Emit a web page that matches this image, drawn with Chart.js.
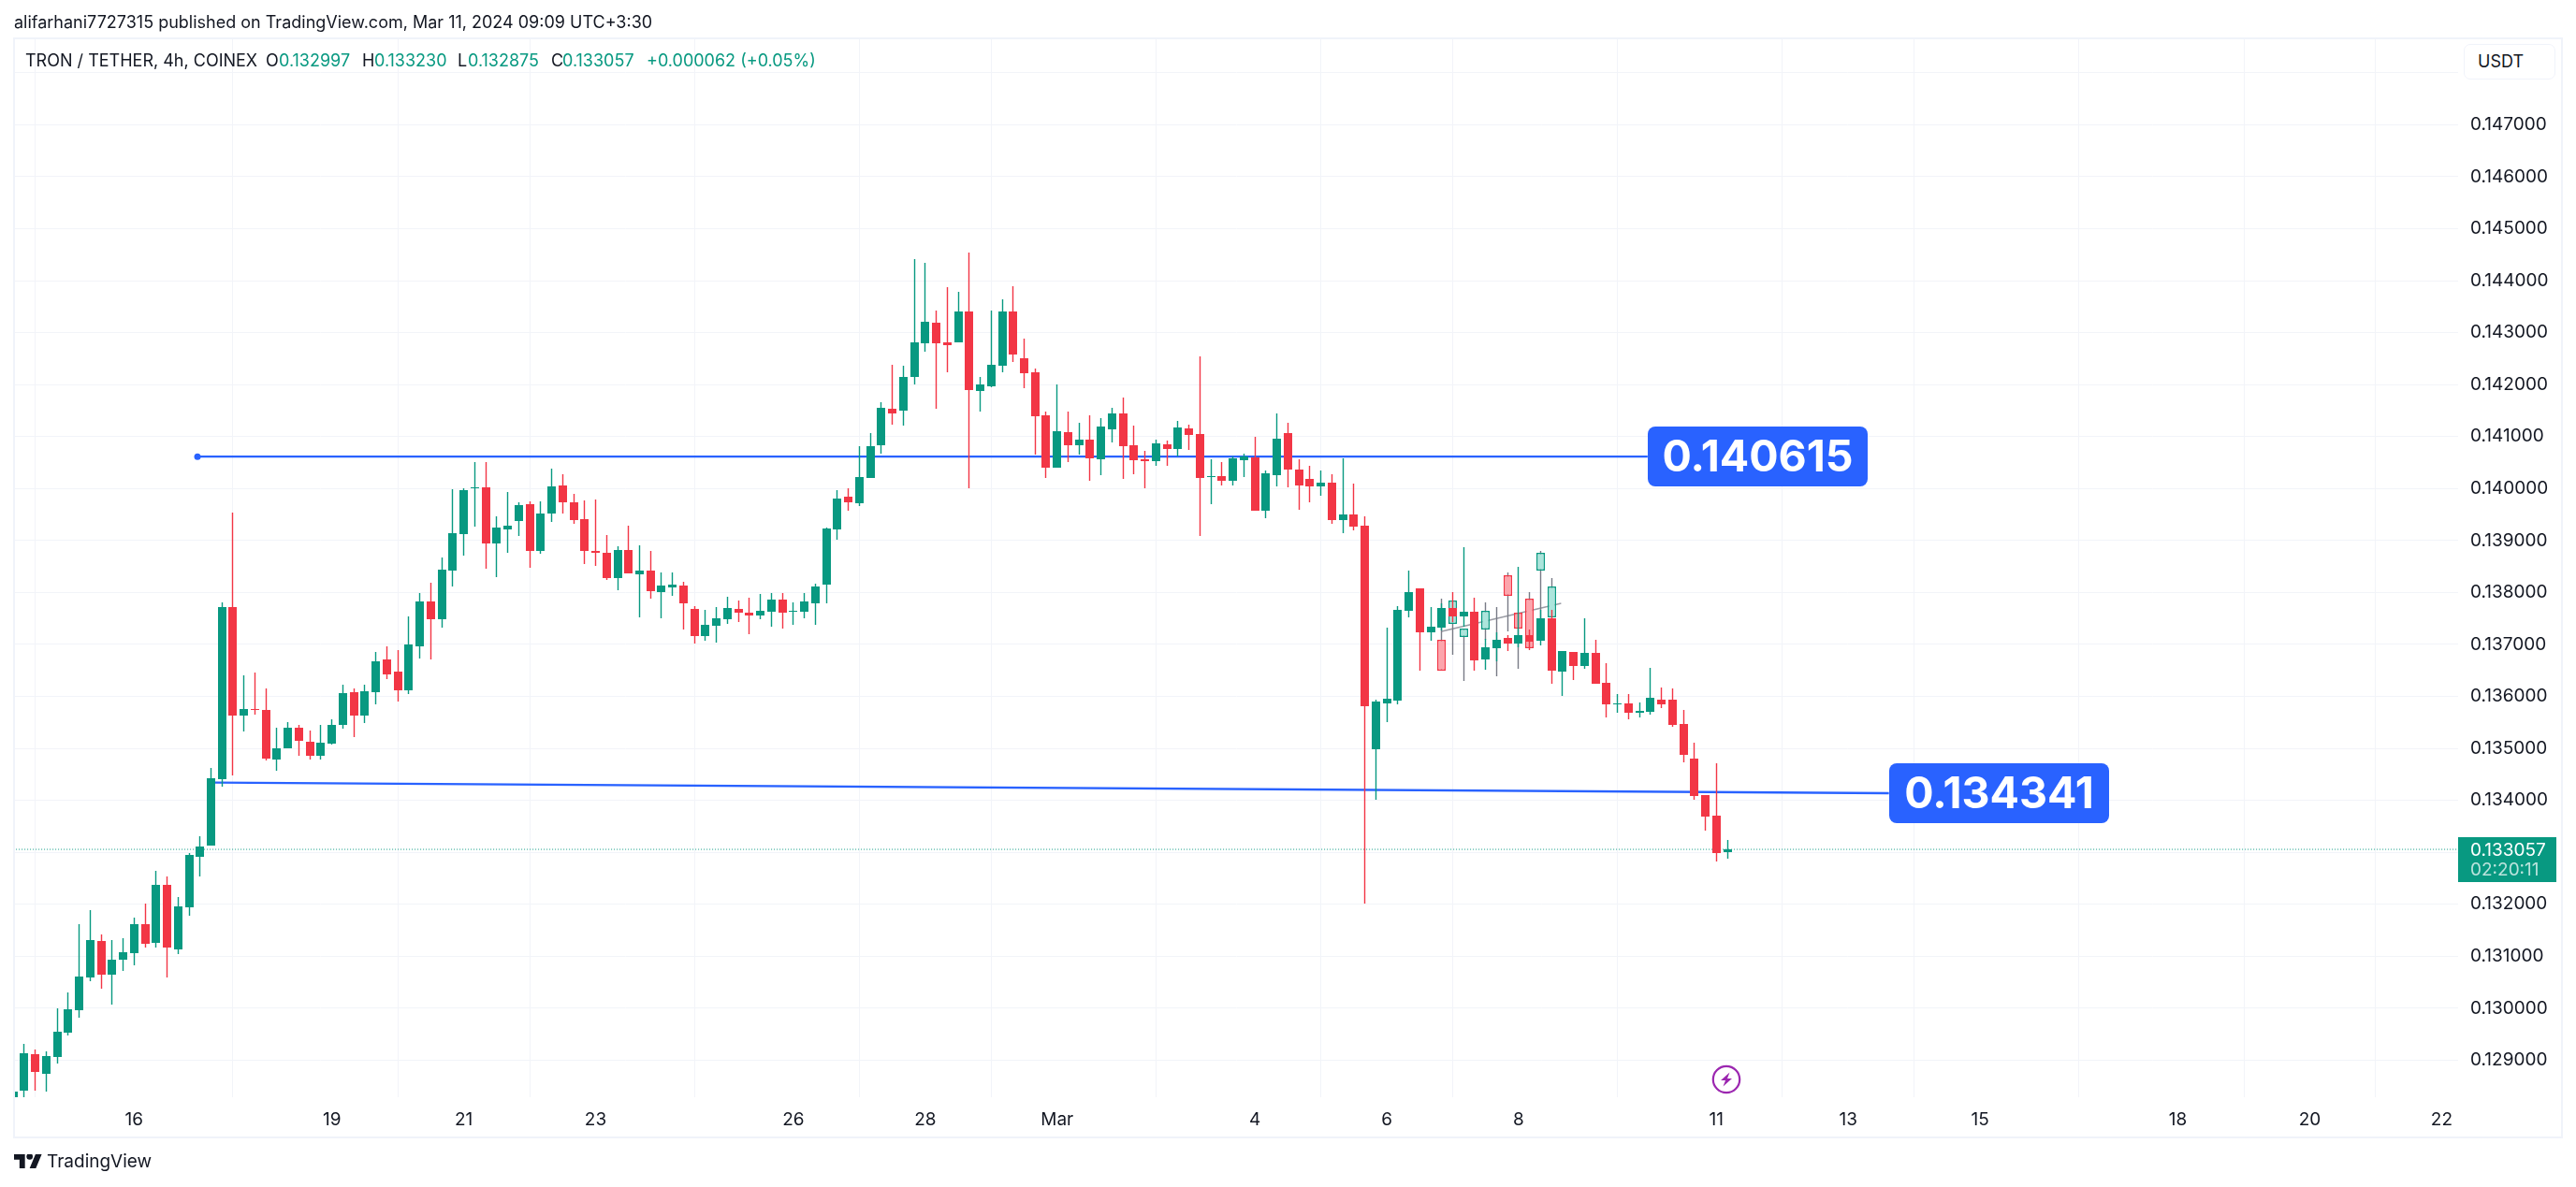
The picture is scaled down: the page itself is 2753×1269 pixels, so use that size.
<!DOCTYPE html>
<html>
<head>
<meta charset="utf-8">
<title>TRON / TETHER, 4h, COINEX</title>
<script src="https://cdn.jsdelivr.net/npm/chart.js@4"></script>
<style>
html,body{margin:0;padding:0;background:#fff;width:2753px;height:1269px;overflow:hidden}
body{font-family:Inter,sans-serif;color:#131722;position:relative}
canvas{position:absolute;left:0;top:0}
.t{position:absolute;white-space:nowrap;line-height:1;font-size:18px}
.g{color:#089981}
#frame{position:absolute;left:14px;top:40px;width:2725px;height:1177px;box-sizing:border-box;border:2px solid #f0f3fa;pointer-events:none}
#usdt{position:absolute;left:2633px;top:47px;width:98px;height:38px;box-sizing:border-box;border:1.5px solid #f0f3fa;border-radius:7px;background:#fff;font-size:18px;line-height:36px;padding-left:14px}
</style>
</head>
<body>
<canvas id="c" width="2753" height="1269"></canvas>
<div id="frame"></div>
<div class="t" style="left:15px;top:15px">alifarhani7727315 published on TradingView.com, Mar 11, 2024 09:09 UTC+3:30</div>
<div class="t" style="left:27px;top:56px">TRON / TETHER, 4h, COINEX</div>
<div class="t" style="left:284px;top:56px">O</div><div class="t g" style="left:298px;top:56px">0.132997</div>
<div class="t" style="left:387px;top:56px">H</div><div class="t g" style="left:400px;top:56px">0.133230</div>
<div class="t" style="left:489px;top:56px">L</div><div class="t g" style="left:500px;top:56px">0.132875</div>
<div class="t" style="left:589px;top:56px">C</div><div class="t g" style="left:601px;top:56px">0.133057</div>
<div class="t g" style="left:691px;top:56px">+0.000062 (+0.05%)</div>
<div id="usdt">USDT</div>
<svg style="position:absolute;left:1829px;top:1138px" width="32" height="32" viewBox="0 0 32 32">
  <circle cx="16" cy="16" r="14.2" fill="#fff" stroke="#9c27b0" stroke-width="2.2"/>
  <path d="M19.5 8.5 L10 17 H15 L12.5 23.5 L22 15 H17 Z" fill="#9c27b0"/>
</svg>
<svg style="position:absolute;left:15px;top:1234px" width="30" height="15" viewBox="0 4 36 18">
  <path d="M14 22H7V11H0V4h14v18zM28 22h-8l7.5-18h8L28 22z" fill="#131722"/><circle cx="20" cy="7" r="4" fill="#131722"/>
</svg>
<div class="t" style="left:50px;top:1232px;font-size:19px;color:#131722">TradingView</div>
<script>
// Bar position on the time axis is the array index.
const opens=[128150,128422,129121,128743,129056,129538,129956,130599,131298,130639,130928,131065,131620,131250,132375,131137,131933,132921,133122,134416,137718,135637,135758,135741,134793,134994,135396,135131,134850,135091,135444,136079,135637,136087,136714,136481,136111,136971,137831,137477,138425,139126,140006,140024,138946,139216,139377,139701,138802,139521,140060,139737,139413,138802,138766,138281,138820,138353,138425,138012,138102,138138,137689,137168,137365,137491,137689,137617,137563,137635,137868,137635,137635,137796,138156,139216,139844,139719,140204,140829,141533,141497,142147,142797,143194,142815,142815,143410,141876,141966,142363,143410,142508,142237,141407,140396,141082,140829,140937,140558,141136,141443,140829,140558,140522,140847,140757,141154,141046,140215,140233,140143,140540,140594,139565,140251,141064,140360,140179,140041,140112,139400,139500,139286,134991,135867,135917,137655,138082,137242,137317,137695,137539,137623,136713,136928,137120,137012,137174,137066,137497,136473,136850,136581,136832,136257,135846,135867,135682,135703,135945,135945,135468,134799,134101,133702,132997];
const highs=[128397,129313,129209,129177,129996,130302,131620,131885,131419,131314,131346,131748,132013,132648,132535,132142,132977,133307,134625,137806,139534,136408,136457,136151,135396,135508,135452,135348,135452,135557,136224,136151,136224,136858,136963,136890,137541,137991,138184,138674,139994,140006,140509,140509,139467,139934,139737,139754,139754,140383,140275,139898,139772,139790,139108,138892,139287,138910,138802,138389,138389,138210,137743,137671,137725,137922,137850,137904,137976,137994,137994,137814,137994,138174,139251,139970,140006,140814,141066,141659,142381,142363,144421,144349,143428,143880,143789,144548,142147,143428,143645,143898,142887,142309,141479,142002,141479,141262,141407,141353,141551,141750,141208,140721,140937,140919,141298,141226,142544,140558,140504,140612,140667,140991,140342,141443,141262,140558,140432,140347,140276,140583,140098,139464,135945,137320,137740,138424,138082,137719,137784,138000,138880,137892,137108,137240,137174,138485,137281,137659,137659,136868,136850,137497,137084,136635,136052,136052,135881,136558,136173,136152,135739,135105,134101,134713,133230];
const lows=[128050,128269,128422,128389,128928,129482,129812,130527,130382,130061,130720,130832,131161,131161,130583,131049,131772,132544,133122,134271,134472,135332,135653,134761,134576,134994,134850,134793,134777,135067,135388,135211,135492,135854,136328,135894,136039,136738,136706,137332,138120,138713,139269,138461,138299,138766,139090,138479,138749,139359,139521,139323,138551,138515,138246,138048,138371,137527,137886,137509,137940,137293,137024,137078,137042,137401,137437,137204,137491,137347,137311,137383,137509,137383,137796,139018,139575,139665,140204,140667,141226,141208,142002,142634,141533,142237,142815,139999,141479,141948,142237,142436,141930,140649,140197,140396,140504,140649,140143,140251,140883,140179,140269,139999,140432,140432,140612,140739,139096,139692,140053,140053,140215,139565,139421,140035,140017,139584,139728,139863,139329,139144,139201,132014,134015,135497,135839,137513,136501,137064,137275,137425,137335,136497,136515,136677,136868,136946,136892,136976,136240,136006,136311,136527,136240,135596,135682,135561,135596,135646,135775,135411,134727,134008,133417,132818,132875];
const closes=[128397,129137,128767,129080,129546,129980,130607,131314,130639,130937,131081,131620,131234,132375,131161,131957,132953,133114,134424,137718,135637,135758,135750,134809,135002,135396,135139,134850,135107,135452,136063,135637,136103,136674,136416,136111,137003,137831,137477,138441,139144,139970,140024,138946,139251,139287,139683,138802,139521,140042,139737,139395,138802,138766,138281,138820,138371,138425,138030,138138,138156,137796,137168,137383,137509,137707,137617,137563,137653,137868,137617,137653,137832,138120,139234,139808,139737,140222,140814,141551,141443,142147,142815,143212,142797,142760,143410,141894,142002,142381,143410,142580,142219,141389,140396,141100,140829,140937,140576,141190,141443,140811,140540,140522,140865,140757,141172,141028,140197,140233,140143,140576,140612,139565,140288,140955,140360,140053,140035,140112,139400,139500,139272,135817,135903,135953,137669,138011,137242,137342,137695,137539,137623,136695,136940,137084,137012,137174,137048,137497,136491,136868,136581,136832,136240,135844,135867,135682,135718,135967,135846,135447,134877,134086,133687,132989,133057];

// Faded overlay of bars pasted onto the chart
const ghostBars=[130,131,132,134,136,137,138,139,140];
const ghostOpens=[137096,137395,137144,137287,138335,137617,137886,138419,137515];
const ghostCloses=[136497,137850,137311,137653,137934,137305,136928,138766,138120];
const ghostHighs=[137874,137850,137311,137814,138377,137617,138012,138808,138281];
const ghostLows=[136497,136796,136293,137096,137246,136527,136928,137497,137515];
const ghostWickOnlyBar=[135];
const ghostWickOnlyHigh=[137725];
const ghostWickOnlyLow=[136389];
const ghostLineBars=[130,140.87];
const ghostLinePrices=[137251,137790];

// Trend lines and their price labels
const lineBars1=[16.77,148.74];
const linePrices1=[140615,140615];
const lineLabel1='0.140615';
const lineBars2=[18.38,170.7];
const linePrices2=[134341,134138];
const lineLabel2='0.134341';

const lastPrice=133057;
const lastPriceLabel='0.133057';
const countdownLabel='02:20:11';

const priceTicks=[129000,130000,131000,132000,133000,134000,135000,136000,137000,138000,139000,140000,141000,142000,143000,144000,145000,146000,147000,148000];
const hiddenPriceLabels=[133000,148000];
const dateTickBars=[11,29,41,53,71,83,95,113,125,137,155,167,179,197,209,221];
const dateTickLabels=['16','19','21','23','26','28','Mar','4','6','8','11','13','15','18','20','22'];

const UP='#089981',DOWN='#F23645',BLUE='#2962FF',GRID='#f2f4f9',INK='#131722',WICKG='#787B86';
const idx=opens.map((_,i)=>i);
const candleColors=opens.map((o,i)=>closes[i]>=o?UP:DOWN);
const ghostFill=ghostOpens.map((o,i)=>ghostCloses[i]>=o?'#ACE5DC':'#FCA5AC');
const ghostEdge=ghostOpens.map((o,i)=>ghostCloses[i]>=o?UP:DOWN);

const barCommon={type:'bar',grouped:false,barPercentage:1,categoryPercentage:1,inflateAmount:0,borderWidth:0};

const snapBars={
  id:'snapBars',
  afterDatasetsUpdate(chart){
    chart.data.datasets.forEach((ds,d)=>{
      if(ds.type!=='bar')return;
      chart.getDatasetMeta(d).data.forEach(el=>{
        el.x=Math.round(el.x-4.5)+4.5;
        el.y=Math.round(el.y);
        el.base=Math.round(el.base);
        if(ds.isBody&&Math.abs(el.base-el.y)<1)el.base=el.y+1;
      });
    });
  }
};

function roundBox(ctx,x,y,w,h,r,fill){
  ctx.beginPath();ctx.roundRect(x,y,w,h,r);ctx.fillStyle=fill;ctx.fill();
}
const labels={
  id:'labels',
  afterDraw(chart){
    const {ctx,scales:{x,y}}=chart;
    ctx.save();
    ctx.textAlign='center';ctx.textBaseline='middle';
    [[lineBars1,linePrices1,lineLabel1],[lineBars2,linePrices2,lineLabel2]].forEach(([bs,ps,t])=>{
      const px=Math.round(x.getPixelForValue(bs[1]));
      const py=Math.round(y.getPixelForValue(ps[1]));
      roundBox(ctx,px,py-32,235,64,8,BLUE);
      ctx.fillStyle='#fff';ctx.font='700 46.5px Inter';
      ctx.fillText(t,px+117.5,py+2);
    });
    const ly=Math.round(y.getPixelForValue(lastPrice));
    ctx.fillStyle=UP;ctx.fillRect(2627,ly-13,105,48);
    ctx.textAlign='left';
    ctx.font='19px Inter';ctx.fillStyle='#fff';
    ctx.fillText(lastPriceLabel,2640,ly+1);
    ctx.fillStyle='rgba(255,255,255,.72)';
    ctx.fillText(countdownLabel,2640,ly+22);
    ctx.restore();
  }
};

new Chart(document.getElementById('c'),{
  data:{datasets:[
    {...barCommon,isBody:true,label:'body',data:idx.map(i=>({x:i,y:[opens[i],closes[i]]})),backgroundColor:candleColors,maxBarThickness:9},
    {...barCommon,label:'wick',data:idx.map(i=>({x:i,y:[lows[i],highs[i]]})),backgroundColor:candleColors,maxBarThickness:1.4},
    {type:'line',label:'line1',data:lineBars1.map((b,i)=>({x:b,y:linePrices1[i]})),borderColor:BLUE,borderWidth:2.3,pointRadius:[3.5,0],pointBackgroundColor:BLUE,pointBorderWidth:0,tension:0},
    {type:'line',label:'line2',data:lineBars2.map((b,i)=>({x:b,y:linePrices2[i]})),borderColor:BLUE,borderWidth:2.3,pointRadius:0,tension:0},
    {...barCommon,isBody:true,label:'ghostBody',data:ghostBars.map((b,i)=>({x:b,y:[ghostOpens[i],ghostCloses[i]]})),backgroundColor:ghostFill,borderColor:ghostEdge,borderWidth:1.5,borderSkipped:false,maxBarThickness:9},
    {...barCommon,label:'ghostWick',data:ghostBars.map((b,i)=>({x:b,y:[ghostLows[i],ghostHighs[i]]})).concat(ghostWickOnlyBar.map((b,i)=>({x:b,y:[ghostWickOnlyLow[i],ghostWickOnlyHigh[i]]}))),backgroundColor:WICKG,maxBarThickness:1.4},
    {type:'line',label:'ghostLine',data:ghostLineBars.map((b,i)=>({x:b,y:ghostLinePrices[i]})),borderColor:'rgba(120,123,134,.75)',borderWidth:1.5,pointRadius:0,tension:0},
    {type:'line',label:'last',data:[{x:0,y:lastPrice},{x:223,y:lastPrice}],borderColor:UP,borderWidth:1,borderDash:[1,2],pointRadius:0,tension:0}
  ]},
  plugins:[snapBars,labels],
  options:{
    responsive:false,animation:false,devicePixelRatio:1,events:[],
    layout:{padding:{left:16,top:41,right:16,bottom:54}},
    plugins:{legend:{display:false},tooltip:{enabled:false}},
    scales:{
      x:{type:'linear',min:0.16,max:222.5,offset:false,
        afterBuildTicks(s){s.ticks=dateTickBars.map(v=>({value:v}));},
        afterFit(s){s.height=42;},
        grid:{color:GRID,lineWidth:1,drawTicks:false},border:{display:false},
        ticks:{autoSkip:false,maxRotation:0,padding:13,color:INK,font:{family:'Inter',size:19},
          callback(v){const k=dateTickBars.indexOf(v);return k<0?'':dateTickLabels[k];}}},
      y:{type:'linear',position:'right',min:128288,max:148663,
        afterBuildTicks(s){s.ticks=priceTicks.map(v=>({value:v}));},
        afterFit(s){s.width=110;},
        grid:{color:GRID,lineWidth:1,drawTicks:false},border:{display:false},
        ticks:{padding:13,color:INK,font:{family:'Inter',size:19},
          callback(v){return hiddenPriceLabels.includes(v)?'':(v/1e6).toFixed(6);}}}
    }
  }
});
</script>
</body>
</html>
